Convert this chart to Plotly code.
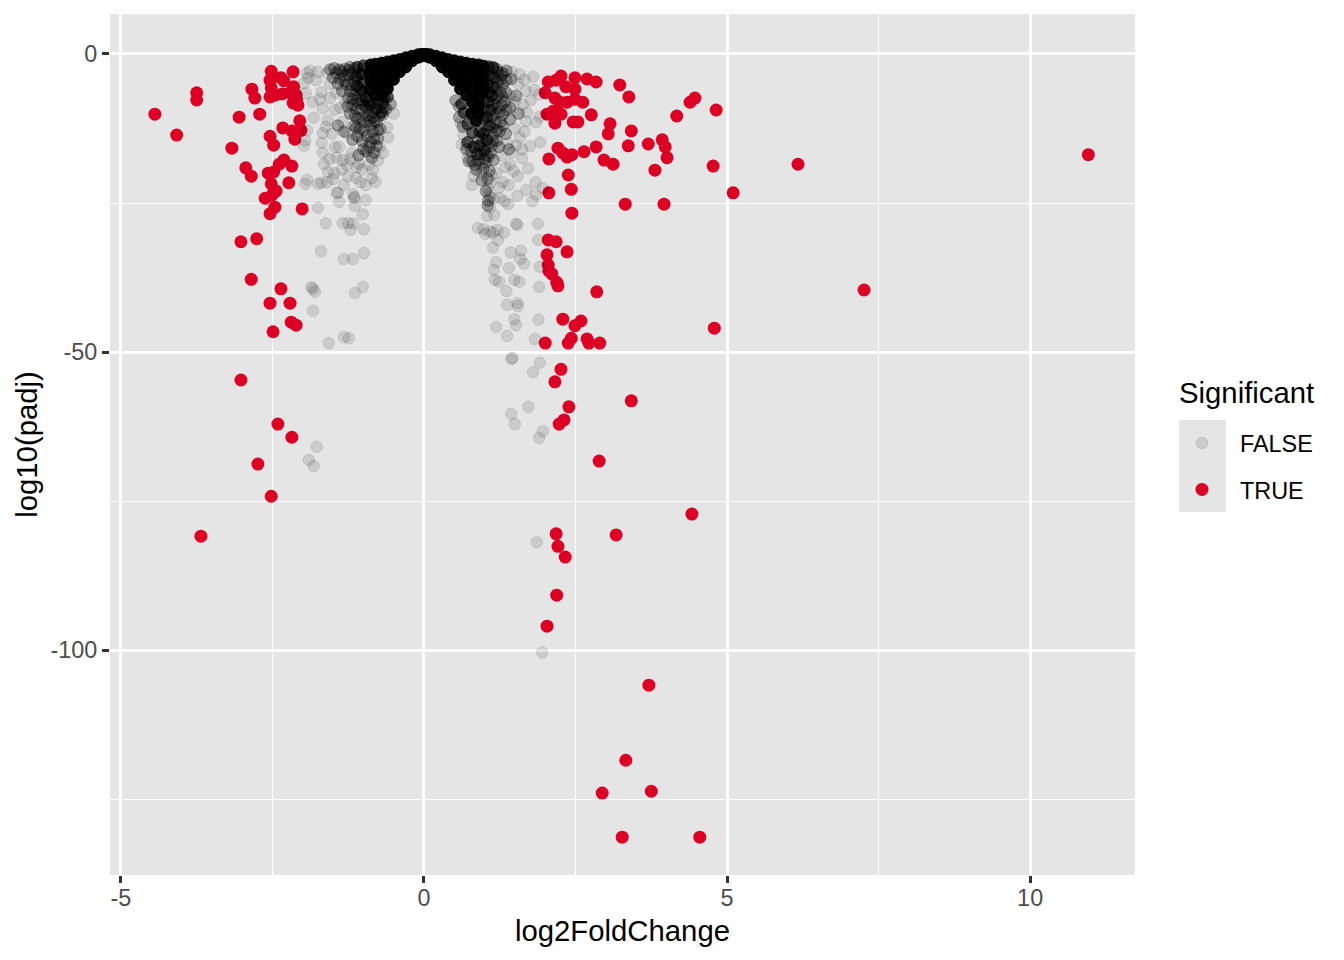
import plotly.graph_objects as go

# (log2FoldChange, log10(padj))
TRUE_LEFT = [(-4.44,-10.1),(-4.08,-13.6),(-3.75,-6.5),(-3.75,-7.7),(-3.17,-15.8),(-3.05,-10.6),(-2.94,-19.1),(-2.85,-20.5),
 (-3.02,-31.5),(-2.76,-31.0),(-2.85,-37.8),(-3.02,-54.7),(-2.74,-68.8),(-3.68,-80.9),(-2.52,-74.2),(-2.41,-62.1),(-2.18,-64.3),
 (-2.36,-39.4),(-2.54,-41.8),(-2.21,-41.8),(-2.19,-45.0),(-2.11,-45.5),(-2.49,-46.6),(-2.01,-26.0),(-2.54,-26.8),(-2.46,-25.7),
 (-2.62,-24.2),(-2.51,-23.7),(-2.52,-21.8),(-2.44,-23.0),(-2.57,-20.0),(-2.48,-19.8),(-2.39,-18.5),(-2.31,-17.8),(-2.18,-18.8),
 (-2.23,-21.6),(-2.54,-13.8),(-2.48,-15.3),(-2.33,-12.4),(-2.18,-12.9),(-2.13,-14.3),(-2.03,-12.8),(-2.05,-11.2),(-2.84,-5.9),
 (-2.79,-7.4),(-2.71,-10.1),(-2.52,-2.9),(-2.54,-4.4),(-2.36,-4.0),(-2.31,-4.5),(-2.52,-5.7),(-2.46,-6.9),(-2.54,-7.2),(-2.16,-3.0),
 (-2.21,-6.5),(-2.15,-5.5),(-2.11,-6.9),(-2.10,-7.7),(-2.16,-8.2),(-2.08,-8.6),(-2.34,-6.7)]
TRUE_RIGHT = [(10.96,-16.9),(7.26,-39.6),(6.17,-18.5),(5.10,-23.3),(4.77,-18.8),(4.82,-9.4),(4.79,-46.0),(4.42,-77.2),(4.55,-131.4),
 (3.27,-131.4),(2.94,-124.0),(3.75,-123.7),(3.33,-118.5),(3.71,-105.9),(2.03,-96.0),(2.19,-90.8),(2.33,-84.4),(2.21,-82.6),(2.18,-80.5),
 (3.17,-80.7),(2.89,-68.3),(3.42,-58.2),(2.39,-59.2),(2.31,-61.4),(2.23,-62.1),(2.26,-52.9),(2.16,-55.0),(2.00,-48.5),(2.38,-48.5),
 (2.43,-47.7),(2.49,-45.6),(2.59,-44.8),(2.29,-44.5),(2.69,-47.8),(2.72,-48.5),(2.90,-48.5),(2.85,-39.9),(2.21,-38.9),(2.19,-38.3),
 (2.11,-36.9),(2.06,-36.4),(2.05,-35.4),(2.03,-33.7),(2.36,-33.2),(2.18,-31.5),(2.05,-31.2),(2.06,-23.3),(2.43,-22.7),(2.44,-26.7),
 (2.38,-20.3),(3.32,-25.2),(3.96,-25.2),(3.81,-19.5),(4.01,-17.4),(3.98,-15.6),(3.93,-14.4),(3.70,-15.1),(3.42,-12.9),(3.37,-15.4),
 (3.07,-11.7),(3.04,-13.4),(2.84,-15.6),(2.97,-17.8),(3.12,-18.5),(2.64,-16.4),(2.44,-16.9),(2.36,-17.3),(2.29,-16.6),(2.21,-15.8),
 (2.06,-17.6),(2.46,-11.4),(2.54,-11.4),(2.76,-10.2),(3.23,-5.2),(3.38,-7.2),(4.17,-10.4),(4.39,-8.1),(4.47,-7.4),(2.00,-6.5),
 (2.03,-10.1),(2.13,-9.6),(2.26,-10.1),(2.16,-11.6),(2.16,-7.4),(2.24,-8.1),(2.36,-8.1),(2.49,-7.6),(2.62,-8.1),(2.26,-3.7),(2.18,-4.4),
 (2.05,-4.7),(2.34,-5.5),(2.49,-4.0),(2.49,-5.9),(2.69,-4.2),(2.84,-4.7)]

FALSE_SPARSE = [(-1.77,-65.9),(-1.90,-68.1),(-1.82,-69.1),(-1.57,-48.5),(-1.32,-47.5),(-1.24,-47.7),(-1.83,-43.1),(-1.86,-39.1),(-1.83,-39.4),
 (-1.80,-39.9),(-1.14,-40.1),(-1.01,-39.1),(-1.70,-33.1),(-1.32,-34.4),(-1.17,-34.4),(-0.99,-33.4),(-1.62,-28.4),(-1.34,-28.4),(-1.25,-28.4),
 (-1.17,-28.4),(-1.21,-29.5),(-0.99,-29.4),(-1.75,-25.8),(-1.44,-23.3),(-1.40,-24.8),(-1.17,-23.5),(-1.15,-24.2),(-1.14,-25.5),(-0.96,-24.5),
 (-1.01,-26.9),(-1.93,-3.2),(-1.91,-4.0),(-1.78,-4.4),(-1.98,-4.9),(-1.69,-6.4),(-1.84,-8.1),(-1.67,-9.1),(-1.82,-10.7),(-1.59,-11.1),(-1.47,-9.4),
 (-1.34,-11.4),(-1.67,-13.3),(-1.93,-12.8),(-1.96,-14.5),(-1.98,-15.4),(-1.69,-14.9),(-1.67,-16.6),(-1.65,-18.5),(-1.47,-15.6),(-1.40,-15.6),
 (-1.27,-13.3),(-1.19,-16.6),(-1.34,-17.8),(-1.27,-18.6),(-1.11,-19.0),(-0.91,-18.6),(-0.76,-17.9),(-0.73,-15.6),(-1.93,-21.1),(-1.96,-21.8),
 (-1.75,-21.8),(-1.69,-21.6),(-1.60,-21.5),(-1.50,-21.0),(-1.32,-22.0),(-1.42,-23.3),(-1.12,-20.8),(-0.86,-20.8),(-0.96,-22.0),(-1.15,-24.0),
 (-0.50,-10.0),(-0.61,-12.3),(-0.59,-14.0),(-1.30,-8.0),(-1.45,-6.5),(-1.55,-5.0),(-1.60,-3.2),(-1.75,-3.0),(-1.25,-20.5),(-1.05,-21.5),
 (-1.55,-7.4),(-1.62,-12.2),(-1.52,-13.4),(-1.44,-17.4),(-1.56,-17.6),(-1.36,-19.4),(-1.72,-7.6),(-1.95,-6.6),(-1.88,-2.8),(-1.38,-9.0),
 (-1.22,-17.6),(-1.02,-19.4),(-1.08,-18.4),(-0.84,-19.5),(-0.68,-16.6),(-0.80,-21.5),(-1.48,-20.0),(-1.58,-19.8),
 (1.95,-100.4),(1.86,-81.9),(1.90,-64.4),(1.96,-63.3),(1.44,-60.4),(1.50,-62.1),(1.72,-59.2),(1.44,-51.2),(1.80,-53.4),(1.91,-51.8),
 (1.89,-44.6),(1.83,-47.8),(1.37,-42.1),(1.54,-41.8),(1.55,-42.3),(1.49,-44.5),(1.52,-45.5),(1.19,-45.8),(1.37,-47.3),(1.46,-51.0),
 (1.36,-39.8),(1.17,-37.9),(1.24,-38.2),(1.49,-37.9),(1.57,-38.2),(1.90,-39.1),(1.91,-35.7),(1.40,-35.9),(1.15,-36.2),(1.19,-34.9),
 (1.59,-34.4),(1.65,-35.2),(1.60,-33.0),(1.43,-33.3),(1.14,-32.5),(1.22,-31.2),(1.88,-31.2),(1.88,-28.5),(1.54,-28.7),(1.52,-28.5),
 (1.32,-30.0),(1.21,-29.5),(1.14,-30.0),(1.09,-29.8),(1.01,-30.2),(0.98,-29.4),(0.89,-29.2),(1.04,-27.2),(1.16,-27.0),(1.09,-25.7),
 (1.07,-23.5),(1.09,-24.0),(1.05,-22.5),(1.15,-24.2),(1.25,-24.2),(1.39,-25.2),(1.33,-24.7),(1.54,-23.8),(1.79,-24.7),(1.85,-23.6),(1.69,-22.8),
 (1.10,-21.5),(0.95,-20.0),(0.79,-22.0),(0.82,-20.5),(0.92,-18.5),(1.03,-17.0),(1.19,-20.0),(1.30,-21.5),(1.42,-18.5),(1.55,-20.5),(1.72,-19.2),
 (1.84,-21.5),(1.96,-22.5),(1.40,-22.0),(1.62,-17.5),(1.75,-15.5),(1.58,-14.0),(1.85,-11.5),(1.92,-14.8),(1.42,-7.0),(1.55,-5.0),(1.66,-4.3),
 (1.80,-3.8),(1.63,-8.5),(1.76,-7.8),(1.90,-6.8),(1.91,-10.5),(1.68,-11.3),(1.50,-12.5),(1.38,-15.0),(1.70,-9.8),(1.45,-16.5),(1.28,-17.0),
 (0.60,-11.5),(0.65,-13.5),(0.70,-15.2),(0.72,-17.3),(0.62,-15.2),(1.28,-3.2),(1.45,-3.0),(1.58,-3.4),(1.52,-15.4),(1.66,-13.0),(1.34,-19.0),
 (1.48,-19.6),(1.12,-20.4),(1.24,-22.4),(1.68,-6.2),(1.50,-8.0),(1.82,-6.0),(1.62,-16.0)]

FALSE_MID = [(-1.55,-2.6),(-1.45,-3.2),(-1.38,-4.2),(-1.30,-2.5),(-1.25,-3.5),(-1.20,-5.2),(-1.15,-2.4),(-1.10,-4.2),(-1.35,-6.2),(-1.25,-7.4),
 (-1.15,-6.8),(-1.05,-5.8),(-1.02,-7.8),(-1.12,-9.2),(-1.22,-10.0),(-0.95,-9.0),(-0.85,-9.8),(-1.03,-10.8),(-0.90,-11.2),(-0.78,-11.4),
 (-1.12,-12.4),(-0.98,-12.8),(-0.85,-13.0),(-0.72,-12.6),(-1.02,-14.6),(-0.88,-14.8),(-0.76,-14.2),(-1.18,-14.4),(-0.95,-16.4),(-0.82,-16.6),
 (-1.08,-17.0),(-1.32,-13.0),(-1.42,-12.0),(-1.05,-3.3),(-1.0,-2.4),(-0.68,-10.2),(-0.62,-9.2),(-0.55,-8.4),(-1.36,-2.9),(-1.22,-2.2),(-1.28,-5.2),
 (-1.18,-8.6),(-1.08,-8.3),(-1.42,-5.0),(-1.5,-4.0),(-0.93,-10.3),(-0.82,-11.2),(-1.10,-10.8),(-1.15,-12.0),
 (1.20,-2.5),(1.28,-3.6),(1.36,-2.8),(1.44,-4.2),(1.30,-5.2),(1.22,-4.8),(1.35,-6.4),(1.22,-7.0),(1.42,-9.0),(1.28,-8.6),(1.52,-7.0),
 (1.30,-10.2),(1.42,-11.0),(1.18,-11.6),(1.25,-13.0),(1.14,-13.6),(1.35,-13.4),(1.12,-15.4),(1.06,-17.2),(0.74,-18.0),
 (1.02,-18.2),(0.90,-17.8),(0.80,-18.0),(1.15,-17.8),(0.98,-19.2),(1.08,-19.6),(0.86,-19.4),(0.95,-21.2),(1.05,-21.0),
 (1.02,-23.0),(1.06,-24.6),(1.05,-25.4),(1.40,-16.0),(1.24,-15.6),(1.56,-10.0),(1.16,-8.4),(1.24,-9.8),(1.34,-8.0),(1.12,-10.6)]

FALSE_MID2 = [(-1.48,-2.4),(-1.40,-2.6),(-1.32,-3.6),(-1.24,-2.7),(-1.18,-3.2),(-1.16,-4.6),(-1.30,-4.6),(-1.22,-6.2),(-1.12,-6.0),(-1.06,-7.0),
 (-1.18,-7.6),(-1.10,-7.8),(-0.98,-8.6),(-1.04,-9.4),(-0.92,-9.4),(-0.84,-10.6),(-0.74,-10.4),(-0.66,-9.0),(-0.98,-11.4),(-0.88,-12.0),(-0.76,-12.8),
 (-1.06,-12.6),(-0.94,-13.8),(-0.82,-14.2),(-1.10,-13.8),(-0.90,-15.6),(-0.78,-15.4),(-1.0,-16.0),(-0.86,-17.4),(-1.14,-10.4),(-1.26,-8.8),
 (1.14,-2.2),(1.22,-3.0),(1.30,-3.2),(1.36,-4.4),(1.26,-4.4),(1.18,-5.6),(1.26,-6.4),(1.18,-7.4),(1.14,-8.6),(1.30,-7.2),(1.36,-9.4),(1.22,-9.0),
 (1.16,-10.2),(1.26,-11.4),(1.12,-12.4),(1.20,-12.8),(1.04,-12.8),(1.30,-12.0),(1.14,-14.6),(1.04,-15.4),(0.96,-14.4),(0.78,-16.4),(0.70,-16.0),
 (0.90,-14.2),(0.94,-16.8),(1.10,-16.6),(1.00,-17.6),(0.84,-18.6),(0.64,-12.2),(0.58,-10.6),(0.52,-7.8),(0.58,-8.8),(1.20,-14.6)]

FALSE_DARK = [(-1.0,-1.95),(-1.02,-3.4),(-1.0,-4.8),(-1.02,-6.2),(-0.96,-7.4),(-1.10,-2.2),(-1.12,-3.8),(-1.10,-5.4),(-0.88,-8.6),(-0.78,-9.2),
 (-0.68,-8.2),(-0.92,-8.0),(-0.7,-9.8),(-0.6,-7.2),(-0.76,-8.2),(-0.66,-7.2),
 (1.06,-2.1),(1.08,-3.6),(1.06,-5.0),(1.08,-6.4),(1.14,-2.3),(1.16,-3.9),(1.14,-5.6),(1.12,-7.0),(1.06,-8.0),(1.10,-9.4),(1.04,-10.6),(1.08,-12.0),
 (0.98,-7.6),(0.98,-9.2),(0.98,-11.0),(0.92,-13.0),(0.80,-13.2),(0.98,-13.4),(1.04,-14.4),(0.72,-14.8),(0.82,-15.6),(0.92,-15.4),(1.0,-16.2),(0.88,-16.8),
 (0.66,-9.8),(0.62,-8.4),(0.72,-11.8)]

FALSE_CORE = [(0,0),(0,-0.3),(-0.05,-0.05),(-0.05,-0.4),(-0.1,-0.1),(-0.1,-0.6),(-0.2,-0.35),(-0.2,-1.2),(-0.3,-0.6),(-0.3,-1.4),(-0.3,-2.2),
 (-0.4,-0.9),(-0.4,-1.9),(-0.4,-3.0),(-0.5,-1.1),(-0.5,-2.2),(-0.5,-3.4),(-0.5,-4.3),(-0.6,-1.3),(-0.6,-2.5),(-0.6,-3.7),(-0.6,-4.9),(-0.6,-5.8),
 (-0.7,-1.5),(-0.7,-2.8),(-0.7,-4.1),(-0.7,-5.4),(-0.7,-6.8),(-0.8,-1.7),(-0.8,-3.0),(-0.8,-4.3),(-0.8,-5.6),(-0.8,-7.0),(-0.88,-1.8),(-0.9,-3.2),(-0.88,-4.6),(-0.9,-6.0),
 (0.05,-0.05),(0.05,-0.4),(0.1,-0.1),(0.1,-0.6),(0.2,-0.35),(0.2,-1.2),(0.3,-0.6),(0.3,-1.4),(0.3,-2.2),
 (0.4,-0.9),(0.4,-1.9),(0.4,-3.0),(0.5,-1.1),(0.5,-2.2),(0.5,-3.4),(0.5,-4.4),(0.6,-1.3),(0.6,-2.5),(0.6,-3.7),(0.6,-4.9),(0.6,-5.9),
 (0.7,-1.5),(0.7,-2.8),(0.7,-4.1),(0.7,-5.4),(0.7,-6.9),(0.8,-1.7),(0.8,-3.0),(0.8,-4.3),(0.8,-5.6),(0.8,-7.0),(0.8,-8.2),
 (0.9,-1.8),(0.9,-3.2),(0.9,-4.6),(0.9,-6.0),(0.9,-7.4),(0.9,-8.8),(0.9,-10.0),(0.98,-2.0),(0.98,-3.4),(0.98,-4.8),(0.98,-6.2),
 (0.85,-9.2),(0.78,-10.0),(0.86,-11.2)]

X_TICKS = [-5, 0, 5, 10]
X_MINOR = [-2.5, 2.5, 7.5]
Y_TICKS = [-100, -50, 0]
Y_MINOR = [-125, -75, -25]
LEGEND_TITLE = "Significant"

PANEL = "#E5E5E5"
FONT = "Liberation Sans"
RED = "#DC0025"

def xs(pts): return [p[0] for p in pts]
def ys(pts): return [p[1] for p in pts]

fig = go.Figure()
def gray(pts, alpha, name, legend):
    fig.add_trace(go.Scatter(x=xs(pts), y=ys(pts), mode="markers", name=name, showlegend=legend, legendgroup=name if legend else None,
        hoverinfo="skip", legendrank=1,
        marker=dict(size=11.5, color=f"rgba(0,0,0,{alpha})", line=dict(width=1, color=f"rgba(0,0,0,{alpha})"))))

red = TRUE_LEFT + TRUE_RIGHT
fig.add_trace(go.Scatter(x=xs(red), y=ys(red), mode="markers", name="TRUE", legendrank=2, legendgroup="TRUE",
    marker=dict(size=13, color=RED, line=dict(width=0))))
gray(FALSE_SPARSE, 0.11, "FALSE", True)
gray(FALSE_MID, 0.3, "mid", False)
gray(FALSE_MID2, 0.3, "mid2", False)
gray(FALSE_DARK, 0.6, "dark", False)
gray(FALSE_CORE, 0.95, "core", False)

axis = dict(showline=False, zeroline=False, showgrid=True, gridcolor="white", gridwidth=2.7,
            ticks="outside", ticklen=7, tickwidth=2.7, tickcolor="#333333",
            tickfont=dict(family=FONT, size=23.4, color="#4D4D4D"),
            title_font=dict(family=FONT, size=29.3, color="black"), automargin=False)
fig.update_xaxes(axis, range=[-5.18, 11.73], tickvals=X_TICKS, ticktext=[str(v) for v in X_TICKS], ticklabelstandoff=-5,
    minor=dict(tickvals=X_MINOR, showgrid=True, gridcolor="white", gridwidth=1.4, ticks=""),
    title_text="log2FoldChange", title_standoff=10)
fig.update_yaxes(axis, range=[-137.75, 6.71], tickvals=Y_TICKS, ticktext=[str(v) for v in Y_TICKS],
    minor=dict(tickvals=Y_MINOR, showgrid=True, gridcolor="white", gridwidth=1.4, ticks=""),
    title_text="log10(padj)", title_standoff=4)

fig.update_layout(width=1344, height=960, margin=dict(l=110, r=209, t=14, b=85, autoexpand=False),
    plot_bgcolor=PANEL, paper_bgcolor="white",
    legend=dict(x=1.0283, y=0.527, xanchor="left", yanchor="top", bgcolor="rgba(0,0,0,0)", tracegroupgap=13, itemwidth=66,
        font=dict(family=FONT, size=23.4, color="black"), itemsizing="trace", itemclick=False),
    shapes=[dict(type="rect", xref="paper", yref="paper", x0=1.043, x1=1.0888, y0=0.4216, y1=0.5285,
                 fillcolor=PANEL, line_width=0, layer="below")],
    annotations=[dict(text=LEGEND_TITLE, xref="paper", yref="paper", x=1.043, y=0.5603, xanchor="left", yanchor="middle", showarrow=False,
                      xshift=-2, font=dict(family=FONT, size=29.3, color="black"))])

fig.write_html("out.html", config=dict(displayModeBar=False), post_script="document.body.style.margin='0';")
